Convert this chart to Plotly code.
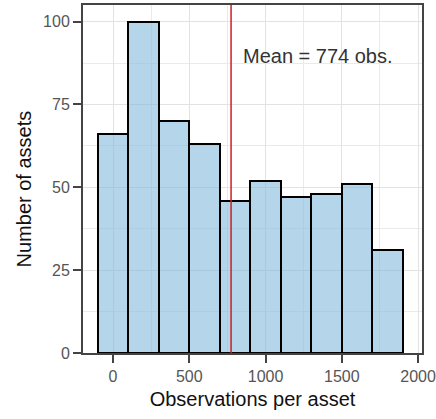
import plotly.graph_objects as go

bin_centers = [0, 200, 400, 600, 800, 1000, 1200, 1400, 1600, 1800]
counts = [66, 100, 70, 63, 46, 52, 47, 48, 51, 31]
bin_width = 200
mean_obs = 774
x_ticks = [0, 500, 1000, 1500, 2000]
y_ticks = [0, 25, 50, 75, 100]

FONT = "Liberation Sans, Arial"

fig = go.Figure()
fig.add_trace(go.Bar(
    x=bin_centers, y=counts, width=[bin_width] * len(bin_centers),
    marker=dict(color="rgba(130,185,220,0.6)", line=dict(color="black", width=2)),
    showlegend=False, hoverinfo="x+y",
))
fig.add_shape(type="line", xref="x", yref="paper", x0=mean_obs, x1=mean_obs, y0=0, y1=1,
              line=dict(color="#cc2020", width=1.5), layer="above")
fig.add_annotation(x=1347, y=89.5, xref="x", yref="y", text=f"Mean = {mean_obs} obs.",
                   showarrow=False, font=dict(family=FONT, size=20, color="#333333"))
fig.add_annotation(x=-0.174, y=0.47, xref="paper", yref="paper", text="Number of assets",
                   textangle=-90, showarrow=False, xanchor="center", yanchor="middle",
                   font=dict(family=FONT, size=20, color="#111111"))

axis_common = dict(
    showline=True, linecolor="#444444", linewidth=2, mirror=True,
    ticks="outside", ticklen=8, tickwidth=2, tickcolor="#444444",
    showgrid=True, gridcolor="#e2e2e2", gridwidth=1, zeroline=False,
    tickfont=dict(family=FONT, size=16, color="#555555"),
)
fig.update_xaxes(range=[-197, 2026], tickvals=x_ticks, ticktext=[str(v) for v in x_ticks],
                 minor=dict(tickvals=[250, 750, 1250, 1750], showgrid=True, gridcolor="#eaeaea"),
                 title=dict(text="Observations per asset", standoff=8,
                            font=dict(family=FONT, size=20, color="#111111")),
                 **axis_common)
fig.update_yaxes(range=[0, 105], tickvals=y_ticks, ticktext=[str(v) for v in y_ticks],
                 minor=dict(tickvals=[12.5, 37.5, 62.5, 87.5], showgrid=True, gridcolor="#eaeaea"),
                 **axis_common)
fig.update_layout(
    width=436, height=419, margin=dict(l=83, r=14, t=5, b=66, autoexpand=False),
    plot_bgcolor="white", paper_bgcolor="white", bargap=0,
    font=dict(family=FONT),
)
fig.write_html("out.html", config={"displayModeBar": False},
               post_script="document.body.style.margin='0';")
